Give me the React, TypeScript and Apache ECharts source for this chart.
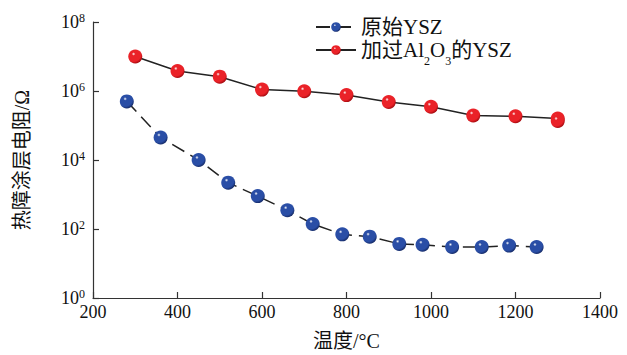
import React, { useEffect, useRef } from "react";
import * as echarts from "echarts";

const xTicks = [200, 400, 600, 800, 1000, 1200, 1400];
const yExponents = [0, 2, 4, 6, 8];

const seriesNames = ["原始YSZ", "加过Al2O3的YSZ"];

const blueTemps = [280, 360, 450, 520, 590, 660, 720, 790, 855, 925, 980, 1050, 1120, 1185, 1250];
const blueValues = [5e5, 4.5e4, 1e4, 2.2e3, 9e2, 3.5e2, 1.4e2, 70, 60, 37, 35, 30, 30, 33, 30];

const redTemps = [300, 400, 500, 600, 700, 800, 900, 1000, 1100, 1200, 1300, 1300];
const redValues = [1e7, 3.8e6, 2.6e6, 1.1e6, 9.8e5, 7.6e5, 4.8e5, 3.5e5, 1.95e5, 1.85e5, 1.6e5, 1.35e5];

const FONT = "'Liberation Serif', 'Times New Roman', 'Noto Sans CJK SC', serif";

function sphere(mid: string, dark: string) {
  return new echarts.graphic.RadialGradient(0.38, 0.32, 0.7, [
    { offset: 0, color: "#ffffff" },
    { offset: 0.18, color: mid },
    { offset: 0.75, color: mid },
    { offset: 1, color: dark },
  ]);
}

export default function App() {
  const ref = useRef<HTMLDivElement>(null);
  useEffect(() => {
    if (!ref.current) return;
    const chart = echarts.init(ref.current, undefined, { renderer: "svg" });
    const blueData = blueTemps.map((t, i) => [t, blueValues[i]]);
    const redData = redTemps.map((t, i) => [t, redValues[i]]);
    chart.setOption({
      animation: false,
      backgroundColor: "#ffffff",
      textStyle: { fontFamily: FONT },
      grid: { left: 93, right: 27, top: 22, bottom: 57, containLabel: false, outerBoundsMode: "none" },
      legend: {
        orient: "vertical",
        left: 310,
        top: 11,
        itemWidth: 40,
        itemHeight: 12,
        itemGap: 1,
        data: seriesNames,
        formatter: (name: string) =>
          name === seriesNames[1] ? "加过Al{sub|2}O{sub|3}的YSZ" : name,
        textStyle: {
          fontFamily: FONT,
          fontSize: 21,
          color: "#111",
          lineHeight: 22,
          rich: {
            sub: {
              fontSize: 12,
              lineHeight: 22,
              verticalAlign: "bottom",
              padding: [0, 0, -6, 0],
              fontFamily: FONT,
              color: "#111",
            },
          },
        },
      },
      xAxis: {
        type: "value",
        min: xTicks[0],
        max: xTicks[xTicks.length - 1],
        interval: 200,
        name: "温度/°C",
        nameLocation: "middle",
        nameGap: 33,
        nameTextStyle: { fontFamily: FONT, fontSize: 20, color: "#111" },
        axisLine: { show: true, lineStyle: { color: "#333", width: 1.2 } },
        axisTick: { show: true, inside: true, length: 6, lineStyle: { color: "#333", width: 1.2 } },
        axisLabel: {
          fontFamily: FONT,
          fontSize: 18,
          color: "#111",
          margin: 5,
          formatter: (v: number) => String(v),
        },
        splitLine: { show: false },
      },
      yAxis: {
        type: "log",
        logBase: 10,
        min: Math.pow(10, yExponents[0]),
        max: Math.pow(10, yExponents[yExponents.length - 1]),
        interval: 2,
        name: "热障涂层电阻/Ω",
        nameLocation: "middle",
        nameGap: 61,
        nameRotate: 90,
        nameTextStyle: { fontFamily: FONT, fontSize: 20, color: "#111" },
        axisLine: { show: true, lineStyle: { color: "#333", width: 1.2 } },
        axisTick: { show: true, inside: true, length: 6, lineStyle: { color: "#333", width: 1.2 } },
        axisLabel: {
          fontFamily: FONT,
          fontSize: 18,
          color: "#111",
          margin: 8,
          formatter: (v: number) => "10{sup|" + Math.round(Math.log10(v)) + "}",
          rich: {
            sup: { fontSize: 12, verticalAlign: "top", lineHeight: 20, fontFamily: FONT, color: "#111" },
          },
          lineHeight: 20,
        },
        splitLine: { show: false },
      },
      series: [
        {
          name: seriesNames[0],
          type: "line",
          data: blueData,
          symbol: "circle",
          symbolSize: 14,
          lineStyle: { color: "#222", width: 1.5, type: [14, 7] },
          itemStyle: { color: sphere("#2a4ea6", "#152a66") },
        },
        {
          name: seriesNames[1],
          type: "line",
          data: redData,
          symbol: "circle",
          symbolSize: 14,
          lineStyle: { color: "#222", width: 1.5 },
          itemStyle: { color: sphere("#ea2228", "#a3090e") },
        },
      ],
    });
    return () => chart.dispose();
  }, []);
  return <div ref={ref} style={{ width: 627, height: 355, position: "absolute", left: 0, top: 0 }} />;
}
